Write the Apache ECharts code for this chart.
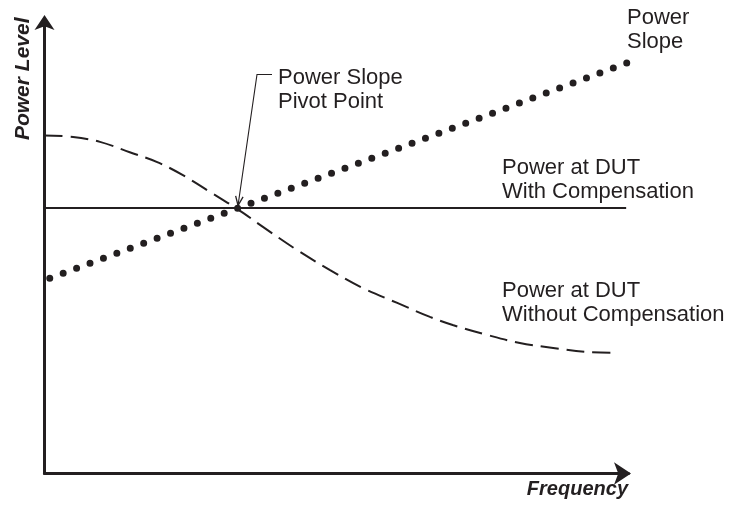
<!DOCTYPE html>
<html>
<head>
<meta charset="utf-8">
<script src="https://cdn.jsdelivr.net/npm/echarts@6/dist/echarts.min.js"></script>
<style>
  html, body { margin: 0; padding: 0; background: #ffffff; }
  #chart { width: 733px; height: 511px; }
</style>
</head>
<body>
<div id="chart"></div>
<script>
// Frequency (x) and power level (y), both in relative units 0–100.
const slopeLine = [[0.9, 43.4], [99.7, 91.2]];   // power slope applied at the source
const compensated = [[0, 59.0], [99.6, 59.0]];  // power at DUT with compensation
const uncompensated = [                          // power at DUT without compensation
  [0, 75.1], [4.9, 74.8], [9.5, 73.7], [14.6, 71.4], [19.3, 69.2], [23.7, 66.3],
  [28.3, 62.6], [33.0, 58.8], [37.4, 54.8], [43.2, 49.7], [48.9, 45.2], [54.5, 41.2],
  [60.4, 37.9], [66.0, 34.8], [69.9, 33.0], [75.8, 30.8], [81.4, 29.0], [87.1, 27.9],
  [92.9, 27.0], [98.0, 26.8]
];
const pivot = [33.0, 59.0];                      // power slope pivot point

const xTitle = 'Frequency';
const yTitle = 'Power Level';
const slopeText = 'Power\nSlope';
const pivotText = 'Power Slope\nPivot Point';
const withText = 'Power at DUT\nWith Compensation';
const withoutText = 'Power at DUT\nWithout Compensation';

const INK = '#231f20';
const FONT = "'Liberation Sans', Arial, Helvetica, sans-serif";

const chart = echarts.init(document.getElementById('chart'), null, { renderer: 'canvas' });

function note(text, x, y) {
  return {
    type: 'text', x: x, y: y, silent: true, z: 20,
    style: { text: text, fill: INK, fontSize: 22, fontFamily: FONT, lineHeight: 24, verticalAlign: 'top', align: 'left' }
  };
}

const option = {
  animation: false,
  backgroundColor: '#ffffff',
  grid: { left: 44.5, right: 104.5, top: 23.5, bottom: 37.5, containLabel: false },
  xAxis: {
    type: 'value', min: 0, max: 100,
    name: xTitle, nameLocation: 'end', nameGap: -0.5,
    nameTextStyle: { color: INK, fontSize: 20, fontWeight: 'bold', fontStyle: 'italic', fontFamily: FONT,
                     align: 'right', verticalAlign: 'top', padding: [6, 0, 0, 0] },
    axisLine: { show: true, lineStyle: { color: INK, width: 3 },
                symbol: ['none', 'arrow'], symbolSize: [17, 17], symbolOffset: [0, 2.5] },
    axisTick: { show: false }, axisLabel: { show: false }, splitLine: { show: false }
  },
  yAxis: {
    type: 'value', min: 0, max: 100,
    name: yTitle, nameLocation: 'end', nameGap: 6, nameRotate: 90,
    nameTextStyle: { color: INK, fontSize: 21, fontWeight: 'bold', fontStyle: 'italic', fontFamily: FONT,
                     align: 'right', verticalAlign: 'bottom', padding: [0, 0, 11, 0] },
    axisLine: { show: true, lineStyle: { color: INK, width: 3 },
                symbol: ['none', 'arrow'], symbolSize: [15, 15], symbolOffset: [0, 8.5] },
    axisTick: { show: false }, axisLabel: { show: false }, splitLine: { show: false }
  },
  series: [
    {
      name: 'With Compensation', type: 'line', data: compensated, showSymbol: false, silent: true,
      lineStyle: { color: INK, width: 2 }, z: 2
    },
    {
      name: 'Without Compensation', type: 'line', data: uncompensated, showSymbol: false, silent: true,
      smooth: 0.35, lineStyle: { color: INK, width: 2, type: [18, 8] }, z: 3
    },
    {
      name: 'Power Slope', type: 'line', data: slopeLine, showSymbol: false, silent: true,
      lineStyle: { color: INK, width: 7, type: [0, 14.32], cap: 'round' }, z: 4
    }
  ]
};
chart.setOption(option);

// Leader line and open arrowhead pointing at the pivot point
const p = chart.convertToPixel({ gridIndex: 0 }, pivot);
const tip = [p[0] + 0.8, p[1] - 2.5];
const elbow = [257, 74.5];
const dx = tip[0] - elbow[0], dy = tip[1] - elbow[1];
const len = Math.sqrt(dx * dx + dy * dy);
const ux = dx / len, uy = dy / len;
const arm = 10, ang = 22 * Math.PI / 180;
function armPoint(sign) {
  const c = Math.cos(sign * ang), s = Math.sin(sign * ang);
  const rx = -(ux * c - uy * s), ry = -(ux * s + uy * c);
  return [tip[0] + rx * arm, tip[1] + ry * arm];
}

chart.setOption({
  graphic: [
    { type: 'polyline', silent: true, z: 10,
      shape: { points: [[272, 74.5], elbow, tip] },
      style: { stroke: INK, lineWidth: 1.1, fill: null } },
    { type: 'polyline', silent: true, z: 10,
      shape: { points: [armPoint(1), tip, armPoint(-1)] },
      style: { stroke: INK, lineWidth: 1.3, fill: null } },
    note(pivotText, 278, 65.5),
    note(slopeText, 627, 5.5),
    note(withText, 502, 155.5),
    note(withoutText, 502, 278.5)
  ]
});
</script>
</body>
</html>
